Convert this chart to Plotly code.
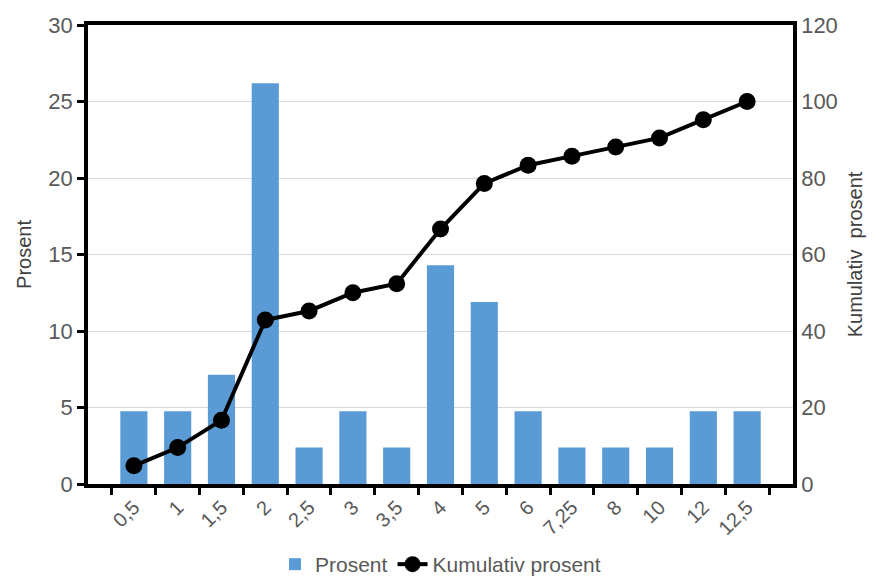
import plotly.graph_objects as go

categories = ["0,5", "1", "1,5", "2", "2,5", "3", "3,5", "4", "5", "6", "7,25", "8", "10", "12", "12,5"]
prosent = [4.76, 4.76, 7.14, 26.19, 2.38, 4.76, 2.38, 14.29, 11.90, 4.76, 2.38, 2.38, 2.38, 4.76, 4.76]
kumulativ = [4.76, 9.52, 16.67, 42.86, 45.24, 50.00, 52.38, 66.67, 78.57, 83.33, 85.71, 88.10, 90.48, 95.24, 100.00]

left_ticks = [0, 5, 10, 15, 20, 25, 30]
right_ticks = [0, 20, 40, 60, 80, 100, 120]

font_family = "Liberation Sans, Arial, sans-serif"
text_grey = "#595959"

fig = go.Figure()
fig.add_trace(go.Bar(
    x=categories, y=prosent, name="Prosent",
    marker=dict(color="#5B9BD5", line=dict(width=0)),
    width=0.62, yaxis="y",
))
fig.add_trace(go.Scatter(
    x=categories, y=kumulativ, name="Kumulativ prosent",
    mode="lines+markers",
    line=dict(color="black", width=4),
    marker=dict(color="black", size=17),
    yaxis="y2",
))

fig.update_layout(
    width=889, height=585,
    margin=dict(l=88, r=96, t=25, b=101),
    plot_bgcolor="white", paper_bgcolor="white",
    font=dict(family=font_family, size=21, color=text_grey),
    showlegend=True,
    legend=dict(orientation="h", x=0.5, xanchor="center",
                yref="container", y=-0.012, yanchor="bottom",
                font=dict(size=21, color=text_grey), traceorder="normal"),
    bargap=0.38,
    xaxis=dict(
        type="category", tickangle=-45, automargin=False,
        showline=True, linecolor="black", linewidth=3.5, mirror=True,
        ticks="outside", tickson="boundaries", ticklen=7, tickwidth=3, tickcolor="black",
        tickfont=dict(size=20, color=text_grey),
        showgrid=False,
    ),
    yaxis=dict(
        range=[0, 30], tickvals=left_ticks, automargin=False,
        showline=True, linecolor="black", linewidth=3.5,
        ticks="outside", ticklen=7, tickwidth=3, tickcolor="black",
        showgrid=True, gridcolor="#D9D9D9", gridwidth=1,
        zeroline=False,
        tickfont=dict(size=22, color=text_grey),
        title=dict(text="Prosent", font=dict(size=20, color="#404040"), standoff=12),
    ),
    yaxis2=dict(
        range=[0, 120], tickvals=right_ticks, automargin=False,
        overlaying="y", side="right",
        showline=True, linecolor="black", linewidth=3.5,
        ticks="", showgrid=False, zeroline=False,
        tickfont=dict(size=22, color=text_grey),
        title=dict(text="Kumulativ  prosent", font=dict(size=20, color="#404040"), standoff=12),
    ),
)

fig.write_html("out.html")
